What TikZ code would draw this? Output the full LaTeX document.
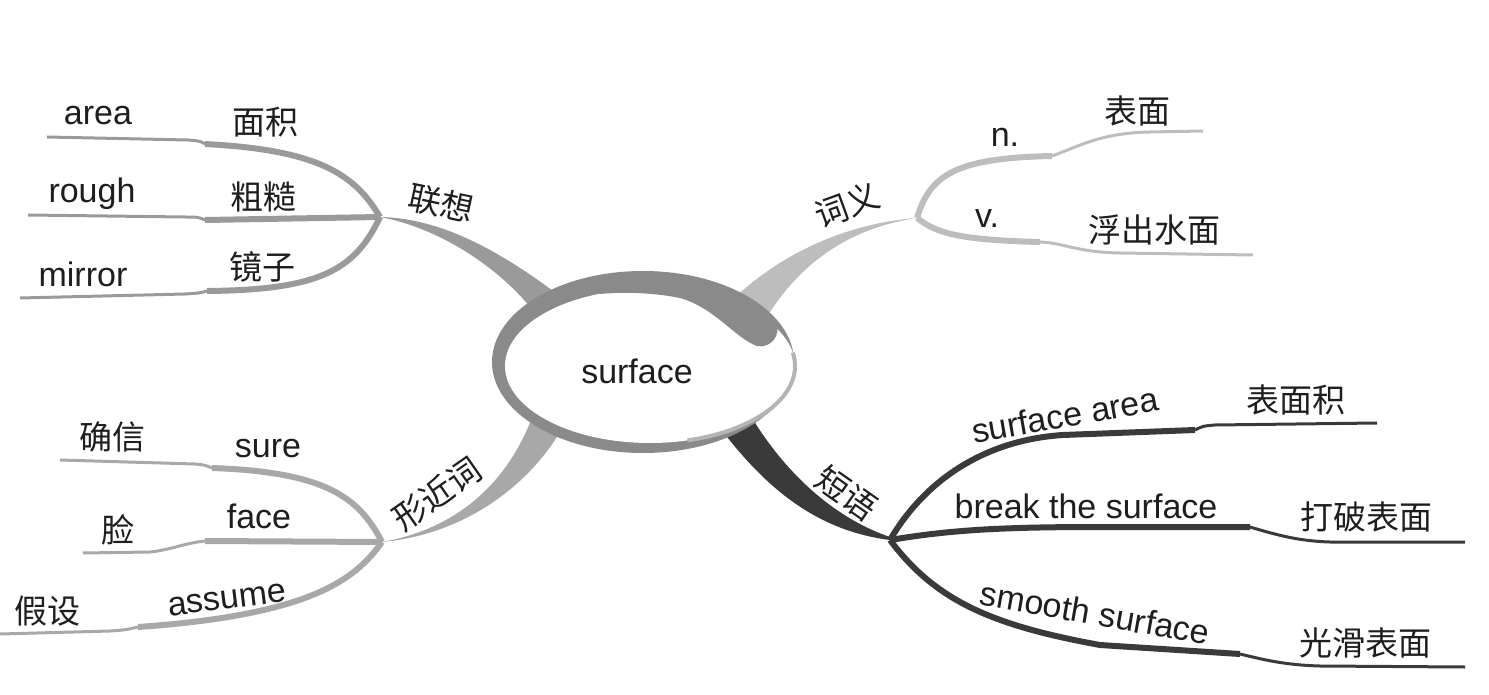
\documentclass[tikz,border=0pt]{standalone}
\usepackage{fontspec}
\setmainfont{Liberation Sans}
\newfontfamily\cjk{Noto Sans CJK SC}
\definecolor{ringc}{HTML}{8A8A8A}
\definecolor{lxc}{HTML}{9A9A9A}
\definecolor{cyc}{HTML}{BDBDBD}
\definecolor{xjc}{HTML}{A8A8A8}
\definecolor{dyc}{HTML}{3A3A3A}
\definecolor{txt}{HTML}{1E1E1E}
\definecolor{rimc}{HTML}{B4B4B4}
\begin{document}
\begin{tikzpicture}[x=1pt,y=-1pt,
  en/.style={font=\fontsize{34}{38}\selectfont, text=txt, inner sep=0pt},
  zh/.style={font=\cjk\fontsize{33}{38}\selectfont, text=txt, inner sep=0pt},
  inl/.style={line width=6pt},
  outl/.style={line width=3pt}]
\useasboundingbox (0,0) rectangle (1489,695);
% junctions
\coordinate (jL) at (380,217);
\coordinate (jC) at (917,218);
\coordinate (jX) at (382,542);
\coordinate (jD) at (890,540);
% main tapered branches
\fill[lxc] (jL) .. controls (440,218) and (500,250) .. (565,300) -- (540,320) .. controls (505,270) and (440,228) .. (jL) -- cycle;
\fill[cyc] (jC) .. controls (860,222) and (790,245) .. (732,300) -- (765,320) .. controls (800,262) and (850,228) .. (jC) -- cycle;
\fill[xjc] (jX) .. controls (450,530) and (505,490) .. (533,415) -- (560,432) .. controls (525,490) and (460,535) .. (jX) -- cycle;
\fill[dyc] (720,428) .. controls (760,480) and (810,530) .. (jD) -- (890,537) .. controls (840,520) and (790,480) .. (752,418) -- cycle;
% lianxiang sub-branches
\coordinate (la1) at (205,144); \coordinate (la2) at (47,137);
\coordinate (lr1) at (205,220); \coordinate (lr2) at (28,215);
\coordinate (lm1) at (207,291); \coordinate (lm2) at (20,298);
\draw[lxc,inl] (jL) .. controls (355,175) and (320,150) .. (la1);
\draw[lxc,outl] (la1) .. controls (200,141) .. (188,140) -- (la2);
\draw[lxc,inl] (jL) -- (lr1);
\draw[lxc,outl] (lr1) .. controls (198,217) .. (185,217) -- (lr2);
\draw[lxc,inl] (jL) .. controls (355,270) and (320,290) .. (lm1);
\draw[lxc,outl] (lm1) .. controls (200,293) .. (185,294) -- (lm2);
% ciyi sub-branches
\coordinate (cn1) at (1052,156); \coordinate (cn2) at (1203,131);
\coordinate (cv1) at (1040,242); \coordinate (cv2) at (1253,255);
\draw[cyc,inl] (jC) .. controls (930,175) and (955,158) .. (cn1);
\draw[cyc,outl] (cn1) .. controls (1080,146) and (1100,133) .. (1150,132) -- (cn2);
\draw[cyc,inl] (jC) .. controls (935,232) and (955,240) .. (cv1);
\draw[cyc,outl] (cv1) .. controls (1065,243) and (1075,252) .. (1120,253) -- (cv2);
% xingjinci sub-branches
\coordinate (xs1) at (212,468); \coordinate (xs2) at (60,460);
\coordinate (xf1) at (205,541); \coordinate (xf2) at (83,553);
\coordinate (xa1) at (138,627); \coordinate (xa2) at (0,634);
\draw[xjc,inl] (jX) .. controls (360,500) and (330,472) .. (xs1);
\draw[xjc,outl] (xs1) .. controls (205,465) .. (195,464) -- (xs2);
\draw[xjc,inl] (jX) -- (xf1);
\draw[xjc,outl] (xf1) .. controls (185,543) and (170,550) .. (150,552) -- (xf2);
\draw[xjc,inl] (jX) .. controls (355,580) and (310,615) .. (xa1);
\draw[xjc,outl] (xa1) .. controls (125,630) .. (110,631) -- (xa2);
% duanyu sub-branches
\coordinate (ds1) at (1195,430); \coordinate (ds2) at (1377,423);
\coordinate (db1) at (1250,527); \coordinate (db2) at (1465,542);
\coordinate (dm1) at (1240,654); \coordinate (dm2) at (1465,667);
\draw[dyc,inl] (jD) .. controls (925,480) and (985,440) .. (1063,435) -- (ds1);
\draw[dyc,outl] (ds1) .. controls (1203,426) .. (1215,425) -- (ds2);
\draw[dyc,inl] (jD) .. controls (950,530) and (1000,527) .. (1100,527) -- (db1);
\draw[dyc,outl] (db1) .. controls (1280,536) and (1300,541) .. (1330,542) -- (db2);
\draw[dyc,inl] (jD) .. controls (935,600) and (990,625) .. (1100,645) -- (dm1);
\draw[dyc,outl] (dm1) .. controls (1265,660) and (1285,665) .. (1320,666) -- (dm2);
% central ellipse
\fill[ringc] (643,362) ellipse [x radius=151, y radius=91];
\fill[white] (650,366) ellipse [x radius=145, y radius=77];
\draw[rimc, line width=4pt] (792.8,352.6) arc[start angle=-10, end angle=75, x radius=145, y radius=77];
\fill[ringc] (620,272) .. controls (700,272) and (758,292) .. (776,322) .. controls (782,335) and (770,349) .. (757,346) .. controls (735,338) and (715,308) .. (680,298) .. controls (650,292) and (620,292) .. (600,294) -- cycle;
% texts
\node[en,anchor=base] (tsurf) at (637,383) {surface};
\node[zh,rotate=-12] (tlx) at (441,203) {联想};
\node[en,anchor=base] (tarea) at (98,125) {area};
\node[zh] (tmj) at (265,122) {面积};
\node[en,anchor=base] (trough) at (92,203) {rough};
\node[zh] (tcc) at (263,197) {粗糙};
\node[en,anchor=base] (tmirror) at (83,287) {mirror};
\node[zh] (tjz) at (262,267) {镜子};
\node[zh,rotate=20] (tcy) at (847,205) {词义};
\node[en,anchor=base] (tn) at (1005,147) {n.};
\node[zh] (tbm) at (1137,111) {表面};
\node[en,anchor=base] (tv) at (987,228) {v.};
\node[zh] (tfc) at (1154,230) {浮出水面};
\node[zh,rotate=35] (txj) at (437,494) {形近词};
\node[zh] (tqx) at (112,437) {确信};
\node[en,anchor=base] (tsure) at (268,457) {sure};
\node[zh] (tlian) at (118,530) {脸};
\node[en,anchor=base] (tface) at (259,528) {face};
\node[zh] (tjs) at (47,611) {假设};
\node[en,rotate=7] (tassume) at (227,600) {assume};
\node[zh,rotate=-35] (tdy) at (847,493) {短语};
\node[en,rotate=10] (tsa) at (1065,415) {surface area};
\node[zh] (tbmj) at (1296,400) {表面积};
\node[en,anchor=base] (tbs) at (1086,518) {break the surface};
\node[zh] (tdp) at (1366,517) {打破表面};
\node[en,rotate=-10] (tss) at (1095,613) {smooth surface};
\node[zh] (tgh) at (1365,643) {光滑表面};
\end{tikzpicture}
\end{document}
